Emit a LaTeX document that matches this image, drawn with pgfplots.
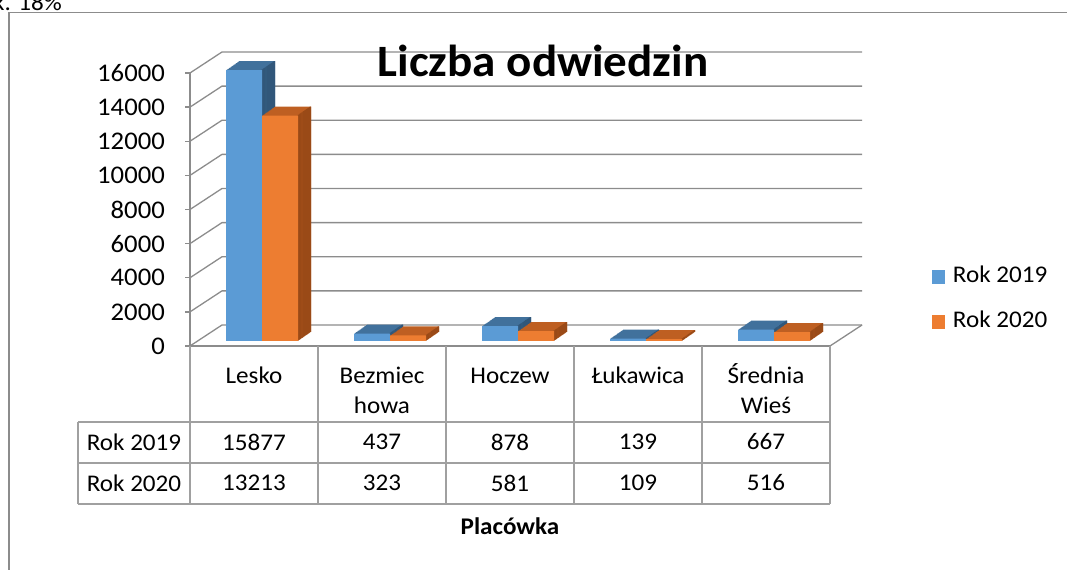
\documentclass[border=0pt]{standalone}
\usepackage{pgfplots}
\usepackage{pgfplotstable}
\pgfplotsset{compat=1.18}
\usepackage{fontspec}
\setmainfont{Carlito}[FakeStretch=1.05]
\definecolor{c19}{HTML}{5B9BD5}
\definecolor{c19t}{HTML}{41719C}
\definecolor{c19s}{HTML}{31577A}
\definecolor{c20}{HTML}{ED7D31}
\definecolor{c20t}{HTML}{BE5F22}
\definecolor{c20s}{HTML}{9A4A17}
\definecolor{gridc}{HTML}{8C8C8C}
\definecolor{tabc}{HTML}{A0A0A0}
\pgfplotstableread{
x v19 v20
0 15877 13213
1 437 323
2 878 581
3 139 109
4 667 516
}\data
\newcommand\fs{\fontsize{24}{30}\selectfont}
\newcommand\ph{\vphantom{Ś}}
\begin{document}
\begin{tikzpicture}[x=1bp,y=1bp]
\begin{axis}[
  at={(190bp,224bp)}, anchor=south west,
  scale only axis, width=640bp, height=273bp,
  xmin=-0.5, xmax=4.5, ymin=0, ymax=16000,
  clip=false, set layers,
  axis x line*=bottom, axis y line*=left,
  axis line style={-, draw=gridc, line width=1.3bp},
  tick align=outside, major tick length=5bp,
  ytick={0,2000,4000,6000,8000,10000,12000,14000,16000},
  scaled y ticks=false,
  ytick style={draw=gridc, line width=1.3bp},
  xtick={0,1,2,3,4},
  xtick style={draw=none},
  xticklabels={\ph Lesko,{\ph Bezmiec\\howa},\ph Hoczew,\ph Łukawica,{\ph Średnia\\Wieś}},
  xticklabel style={font=\fs, align=center, anchor=north, inner sep=0pt, yshift=-12bp},
  yticklabel style={font=\fontsize{25.5}{30}\selectfont, anchor=east, inner sep=0pt, xshift=-20bp,
     /pgf/number format/fixed, /pgf/number format/1000 sep={}},
  /pgf/number format/assume math mode=true,
  legend style={at={(1.159,0.17)}, anchor=west, draw=none, fill=none, inner sep=0pt,
     font=\fs, row sep=24.5bp, nodes={inner sep=0pt, text height=16bp, text depth=5bp},
     /tikz/every odd column/.style={column sep=8bp}},
  legend cell align=left,
]
\begin{pgfonlayer}{axis background}
\pgfplotsinvokeforeach{0,2000,4000,6000,8000,10000,12000,14000,16000}{
  \draw[gridc, line width=1.3bp] (axis cs:-0.5,#1) -- ++(32bp,21bp) -- ++(640bp,0bp);
}
\draw[gridc, line width=1.3bp] (axis cs:4.5,0) -- ++(32bp,21bp);
\end{pgfonlayer}
% ---- Rok 2019 ----
\pgfplotsinvokeforeach{14,13,12,11,10,9,8,7,6,5,4,3,2,1}{
\addplot[ybar, bar width=36bp, bar shift={-10bp+#1*0.9286bp}, yshift={5bp+#1*0.6429bp},
  fill=c19t, draw=none, forget plot] table[x=x,y=v19]{\data};
}
\pgfplotsinvokeforeach{14,13,12,11,10,9,8,7,6,5,4,3,2,1}{
\addplot[ybar, bar width=1.3bp, bar shift={7.35bp+#1*0.9286bp}, yshift={5bp+#1*0.6429bp},
  fill=c19s, draw=none, forget plot] table[x=x,y=v19]{\data};
}
\addplot[ybar, bar width=36bp, bar shift=-10bp, yshift=5bp, fill=c19, draw=none,
  legend image code/.code={\fill[c19] (0bp,-12bp) rectangle (13bp,2bp);}]
  table[x=x,y=v19]{\data};
\addlegendentry{Rok 2019}
% ---- Rok 2020 ----
\pgfplotsinvokeforeach{14,13,12,11,10,9,8,7,6,5,4,3,2,1}{
\addplot[ybar, bar width=36bp, bar shift={26bp+#1*0.9286bp}, yshift={5bp+#1*0.6429bp},
  fill=c20t, draw=none, forget plot] table[x=x,y=v20]{\data};
}
\pgfplotsinvokeforeach{14,13,12,11,10,9,8,7,6,5,4,3,2,1}{
\addplot[ybar, bar width=1.3bp, bar shift={43.35bp+#1*0.9286bp}, yshift={5bp+#1*0.6429bp},
  fill=c20s, draw=none, forget plot] table[x=x,y=v20]{\data};
}
\addplot[ybar, bar width=36bp, bar shift=26bp, yshift=5bp, fill=c20, draw=none,
  legend image code/.code={\fill[c20] (0bp,-12bp) rectangle (13bp,2bp);}]
  table[x=x,y=v20]{\data};
\addlegendentry{Rok 2020}
\end{axis}
% title
\node[anchor=base, inner sep=0pt, font=\fontsize{45}{50}\selectfont\bfseries] at (543,493) {Liczba odwiedzin};
% data table
\begin{scope}[tabc, line width=1.3bp]
\draw (78,148) -- (830,148);
\draw (78,107) -- (830,107);
\draw (78,66) -- (830,66);
\draw (78,148) -- (78,66);
\foreach \xx in {190,318,446,574,702,830} \draw (\xx,224) -- (\xx,66);
\end{scope}
\begin{scope}[every node/.style={inner sep=0pt, font=\fs, anchor=center}]
\node at (134,128) {Rok 2019};
\node at (134,87) {Rok 2020};
\node at (254,128) {15877};
\node at (382,128) {437};
\node at (510,128) {878};
\node at (638,128) {139};
\node at (766,128) {667};
\node at (254,87) {13213};
\node at (382,87) {323};
\node at (510,87) {581};
\node at (638,87) {109};
\node at (766,87) {516};
\end{scope}
\node[anchor=base, inner sep=0pt, font=\fs\bfseries] at (510,35) {Placówka};
\begin{scope}
\clip (0,0) rectangle (1067,570);
\draw[gridc, line width=1.5bp] (9,-20) |- (1100,557.5);
\node[anchor=base east, inner sep=0pt, font=\fs] at (62,559) {k. 18\%};
\end{scope}
\pgfresetboundingbox
\useasboundingbox (0,0) rectangle (1067,570);
\end{tikzpicture}
\end{document}
